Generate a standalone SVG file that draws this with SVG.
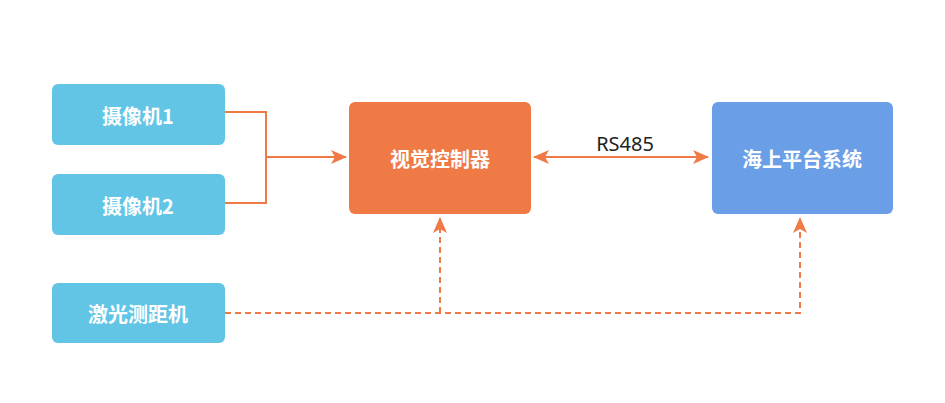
<svg xmlns="http://www.w3.org/2000/svg" width="945" height="403" viewBox="0 0 945 403">
<style>
.n text{font-family:"Noto Sans CJK SC","Noto Sans",sans-serif;font-size:20px;font-weight:bold;fill:#fff;text-anchor:middle;dominant-baseline:central}
.c{fill:none;stroke:#F07A45;stroke-width:2}
.d{stroke-dasharray:6 4}
</style>
<defs>
<marker id="a" viewBox="0 0 16 14" refX="15" refY="7" markerWidth="16" markerHeight="14" markerUnits="userSpaceOnUse" orient="auto-start-reverse">
<path d="M0,0 L16,7 L0,14 L4,7 Z" fill="#F07A45"/>
</marker>
</defs>
<rect width="945" height="403" fill="#fff"/>
<g id="cam1" class="n"><rect x="52" y="84" width="173" height="61" rx="6" fill="#62C5E6"/><text x="138" y="115">摄像机1</text></g>
<g id="cam2" class="n"><rect x="52" y="174" width="173" height="61" rx="6" fill="#62C5E6"/><text x="138" y="205">摄像机2</text></g>
<g id="laser" class="n"><rect x="52" y="283" width="173" height="60" rx="6" fill="#62C5E6"/><text x="138" y="313">激光测距机</text></g>
<g id="ctrl" class="n"><rect x="349" y="102" width="182" height="112" rx="6" fill="#F07A45"/><text x="440" y="158">视觉控制器</text></g>
<g id="plat" class="n"><rect x="712" y="102" width="181" height="112" rx="6" fill="#6A9EE6"/><text x="802" y="158">海上平台系统</text></g>
<g id="connectors">
<path class="c" d="M225,112 H266 V203 H225"/>
<path class="c" d="M266,157 H346" marker-end="url(#a)"/>
<path class="c" d="M534,157 H708" marker-start="url(#a)" marker-end="url(#a)"/>
<path class="c d" d="M225,313 H800 V218" marker-end="url(#a)"/>
<path class="c d" d="M440,313 V218" marker-end="url(#a)"/>
<text x="625" y="143" font-family="Noto Sans,sans-serif" font-size="20" fill="#222" text-anchor="middle" dominant-baseline="central">RS485</text>
</g>
</svg>
